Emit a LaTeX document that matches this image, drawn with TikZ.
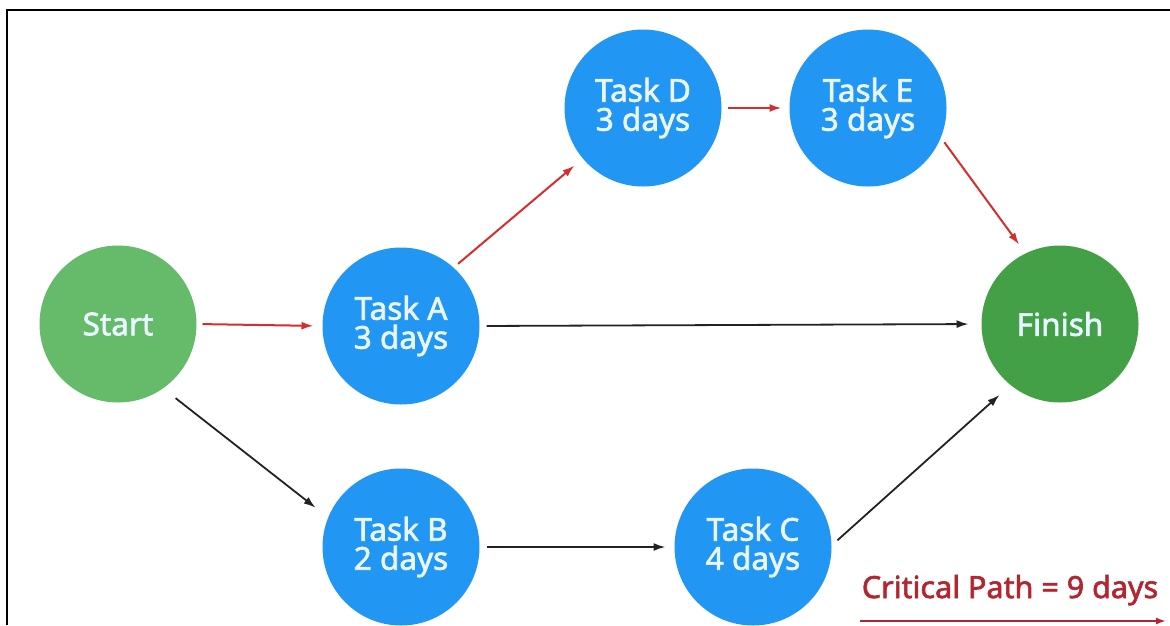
\documentclass[tikz,border=0pt]{standalone}
\usepackage{fontspec}
\setmainfont{Noto Sans}
\newfontfamily\labelfont{Noto Sans}[FakeBold=2]
\usetikzlibrary{arrows.meta}
\definecolor{taskblue}{HTML}{2196F3}
\definecolor{startgreen}{HTML}{66BB6A}
\definecolor{finishgreen}{HTML}{43A047}
\definecolor{critred}{HTML}{D32F2F}
\definecolor{legendred}{HTML}{B3262F}
\definecolor{labeltext}{HTML}{EAF6FF}
\definecolor{arrowblack}{HTML}{222222}
\begin{document}
\begin{tikzpicture}[x=1pt,y=-1pt,
  circ/.style={circle, minimum size=157pt, inner sep=0pt, outer sep=0pt,
    text=labeltext, align=center, font=\labelfont\fontsize{31.5}{29}\selectfont},
  task/.style={circ, fill=taskblue},
  startnode/.style={circ, fill=startgreen},
  finishnode/.style={circ, fill=finishgreen},
  critarrow/.style={draw=critred, line width=2pt, -{Latex[length=12pt,width=8pt]}},
  normarrow/.style={draw=arrowblack, line width=1.8pt, -{Latex[length=12pt,width=8pt]}}
]
\useasboundingbox (0,0) rectangle (1170,625);
\fill[white] (0,0) rectangle (1170,625);
\draw[line width=2.5pt] (7,625) -- (7,10) -- (1170,10);

\node[startnode] (s) at (118,324) {Start};
\node[task] (a) at (401,326) {Task A\\3 days};
\node[task] (b) at (401,547) {Task B\\2 days};
\node[task] (c) at (753,547) {Task C\\4 days};
\node[task] (d) at (643,108) {Task D\\3 days};
\node[task] (e) at (868,108) {Task E\\3 days};
\node[finishnode] (f) at (1060,324) {Finish};

\draw[critarrow, shorten <=6pt, shorten >=9pt] (s.east) -- (a.west);
\draw[normarrow, shorten <=7pt, shorten >=13pt] (a.east) -- (f.west);
\draw[critarrow, shorten <=6pt, shorten >=11pt] (a.48) -- (d.220);
\draw[normarrow, shorten <=16pt, shorten >=16pt] (s.-55) -- (b.158);
\draw[normarrow, shorten <=7pt, shorten >=9pt] (b.east) -- (c.west);
\draw[normarrow, shorten <=8pt, shorten >=15pt] (c.1) -- (f.-129);
\draw[critarrow, shorten <=6pt, shorten >=8pt] (d.east) -- (e.west);
\draw[critarrow, shorten <=6pt, shorten >=11pt] (e.-22) -- (f.116);

\node[text=legendred, font=\labelfont\fontsize{30.5}{30}\selectfont, anchor=base] (legend) at (1010,598) {Critical Path = 9 days};
\coordinate (legl) at (860,621);
\coordinate (legr) at (1166,621);
\draw[critarrow, draw=legendred, line width=1.8pt, -{Latex[length=10pt,width=7pt]}] (legl) -- (legr);
\end{tikzpicture}
\end{document}
